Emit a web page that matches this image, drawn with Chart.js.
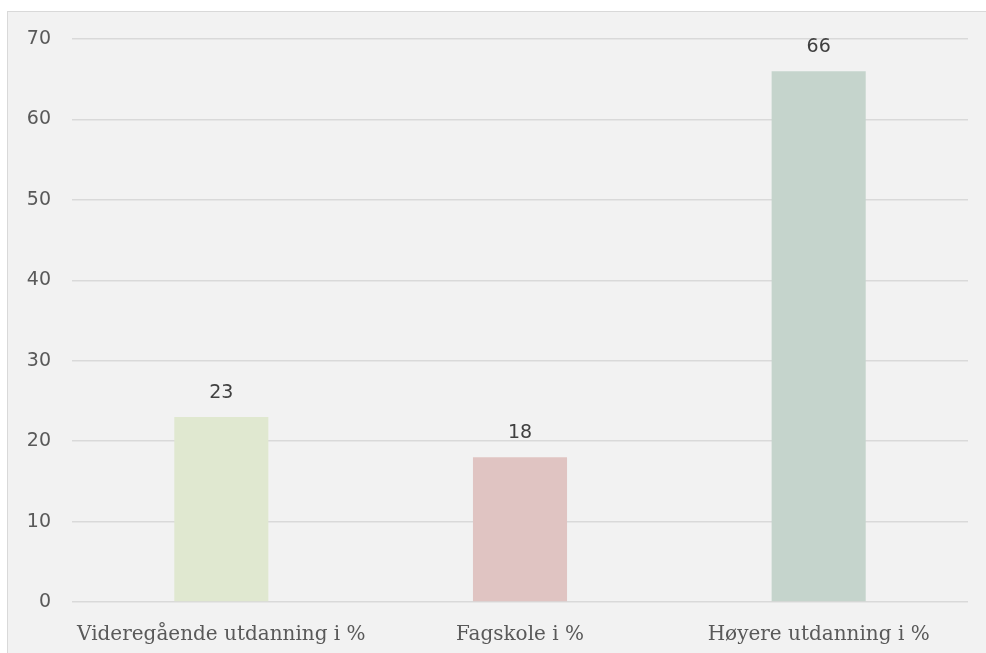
<!DOCTYPE html>
<html>
<head>
<meta charset="utf-8">
<script src="https://cdn.jsdelivr.net/npm/chart.js@4"></script>
<style>
  html, body { margin: 0; padding: 0; background: #ffffff; }
  #frame {
    position: absolute; left: 7px; top: 11px; width: 978px; height: 641px;
    background: #f2f2f2; border-left: 1px solid #d9d9d9; border-top: 1px solid #d9d9d9;
  }
  canvas { display: block; }
</style>
</head>
<body>
<div id="frame"><canvas id="eduChart" width="978" height="641"></canvas></div>
<script>
const categories = ['Videregående utdanning i %', 'Fagskole i %', 'Høyere utdanning i %'];
const values = [23, 18, 66];
const barColors = ['#e0e8d0', '#e0c4c2', '#c5d4cc'];
const yTicks = [0, 10, 20, 30, 40, 50, 60, 70];

// draws the value above each bar
const valueLabels = {
  id: 'valueLabels',
  afterDatasetsDraw(chart) {
    const ctx = chart.ctx;
    const meta = chart.getDatasetMeta(0);
    ctx.save();
    ctx.font = '19px "DejaVu Sans"';
    ctx.fillStyle = '#404040';
    ctx.textAlign = 'center';
    ctx.textBaseline = 'alphabetic';
    meta.data.forEach((bar, i) => {
      ctx.fillText(values[i], bar.x, bar.y - 19);
    });
    ctx.restore();
  }
};

const ctx = document.getElementById('eduChart').getContext('2d');
const eduChart = new Chart(ctx, {
  type: 'bar',
  data: {
    labels: categories,
    datasets: [{
      data: values,
      backgroundColor: barColors,
      categoryPercentage: 1,
      barPercentage: 0.315,
    }]
  },
  options: {
    responsive: false,
    animation: false,
    layout: { padding: { top: 27, right: 18, bottom: 0, left: 0 } },
    plugins: { legend: { display: false }, tooltip: { enabled: false } },
    scales: {
      x: {
        grid: { display: false },
        border: { display: false },
        ticks: { color: '#595959', font: { family: 'DejaVu Serif', size: 20 }, padding: 13, maxRotation: 0 },
        afterFit: s => { s.height = 51; }
      },
      y: {
        min: 0,
        max: 70,
        afterBuildTicks: s => { s.ticks = yTicks.map(v => ({ value: v })); },
        // tick marks kept invisible, only used as a gap between labels and plot
        grid: { color: '#d9d9d9', lineWidth: 1.5, drawTicks: true, tickLength: 21, tickColor: 'rgba(0,0,0,0)' },
        border: { display: false },
        ticks: { color: '#595959', font: { family: 'DejaVu Sans', size: 19 }, padding: 0 },
        afterFit: s => { s.width = 64; }
      }
    }
  },
  plugins: [valueLabels]
});
</script>
</body>
</html>
